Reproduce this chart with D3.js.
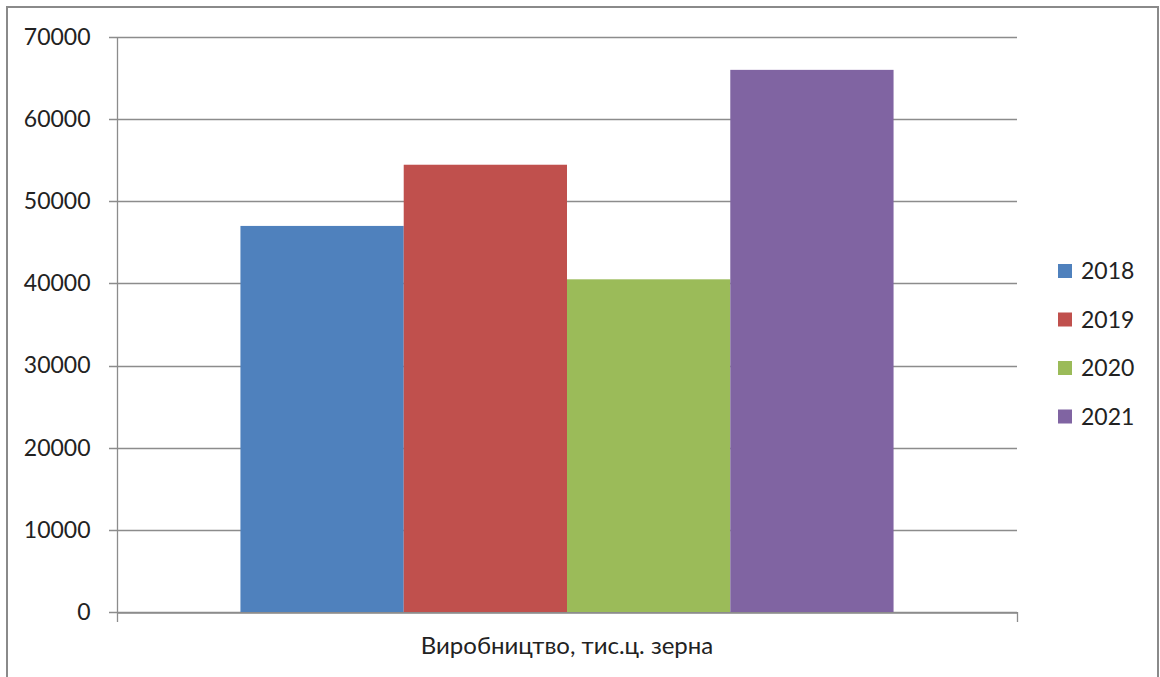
<!doctype html>
<html>
<head>
<meta charset="utf-8">
<style>
  body { margin: 0; background: #fff; }
  svg text { font-family: Lato, "Open Sans", sans-serif; fill: #222; }
</style>
<script src="https://d3js.org/d3.v7.min.js"></script>
</head>
<body>
<svg width="1160" height="677"></svg>
<script>
  var CATEGORIES = ["Виробництво, тис.ц. зерна"];
  var YEARS = ["2018", "2019", "2020", "2021"];
  var VALUES = [47000, 54450, 40500, 66000];
  var COLORS = ["#4f81bd", "#c0504d", "#9bbb59", "#8064a2"];
  var Y_TICKS = [0, 10000, 20000, 30000, 40000, 50000, 60000, 70000];

  var svg = d3.select("svg");
  var plotLeft = 117, plotRight = 1017, plotTop = 37, plotBottom = 612;

  // chart frame
  svg.append("rect")
     .attr("x", 7).attr("y", 7).attr("width", 1151).attr("height", 690)
     .attr("fill", "none").attr("stroke", "#8a8a8a").attr("stroke-width", 2);

  var y = d3.scaleLinear().domain([0, 70000]).range([plotBottom, plotTop]);
  var x0 = d3.scaleBand().domain(CATEGORIES).range([plotLeft, plotRight]);
  var x1 = d3.scaleBand().domain(YEARS).range([0, x0.bandwidth()]).paddingInner(0).paddingOuter(0.756);

  // gridlines
  svg.append("g")
     .selectAll("line")
     .data(Y_TICKS)
     .enter()
        .append("line")
           .attr("x1", plotLeft - 8).attr("x2", plotRight)
           .attr("y1", function(d) { return Math.round(y(d)) + 0.5; })
           .attr("y2", function(d) { return Math.round(y(d)) + 0.5; })
           .attr("stroke", "#8c8c8c").attr("stroke-width", 1.3);

  // bars
  svg.append("g")
     .selectAll("rect")
     .data(YEARS)
     .enter()
        .append("rect")
           .attr("x", function(d) { return x0(CATEGORIES[0]) + x1(d); })
           .attr("y", function(d, i) { return y(VALUES[i]); })
           .attr("width", x1.bandwidth())
           .attr("height", function(d, i) { return y(0) - y(VALUES[i]); })
           .attr("fill", function(d, i) { return COLORS[i]; });

  // y axis
  var yAxis = svg.append("g")
     .attr("transform", "translate(" + (plotLeft + 0.5) + ",0)")
     .call(d3.axisLeft(y).tickValues(Y_TICKS).tickSize(0).tickPadding(27).tickFormat(d3.format("d")));
  yAxis.select(".domain").remove();
  yAxis.selectAll("text").style("font-size", "23px").attr("fill", "#222");
  svg.append("line")
     .attr("x1", plotLeft + 0.5).attr("x2", plotLeft + 0.5).attr("y1", plotTop).attr("y2", plotBottom + 10)
     .attr("stroke", "#8c8c8c").attr("stroke-width", 1.3);

  // x axis
  var xAxis = svg.append("g")
     .attr("transform", "translate(0," + (plotBottom + 0.5) + ")")
     .call(d3.axisBottom(x0).tickSize(0).tickPadding(24));
  xAxis.select(".domain").attr("stroke", "#8c8c8c").attr("stroke-width", 1.3);
  xAxis.selectAll("text").style("font-size", "24px").attr("fill", "#222");
  svg.append("line")
     .attr("x1", plotRight + 0.5).attr("x2", plotRight + 0.5).attr("y1", plotBottom).attr("y2", plotBottom + 10)
     .attr("stroke", "#8c8c8c").attr("stroke-width", 1.3);

  // legend
  var legend = svg.append("g").selectAll("g")
     .data(YEARS)
     .enter()
        .append("g")
           .attr("transform", function(d, i) { return "translate(1058," + (264 + i * 48.5) + ")"; });
  legend.append("rect")
     .attr("width", 14).attr("height", 14)
     .attr("fill", function(d, i) { return COLORS[i]; });
  legend.append("text")
     .attr("x", 23).attr("y", 7).attr("dy", "0.35em")
     .style("font-size", "23px")
     .text(function(d) { return d; });
</script>
</body>
</html>
